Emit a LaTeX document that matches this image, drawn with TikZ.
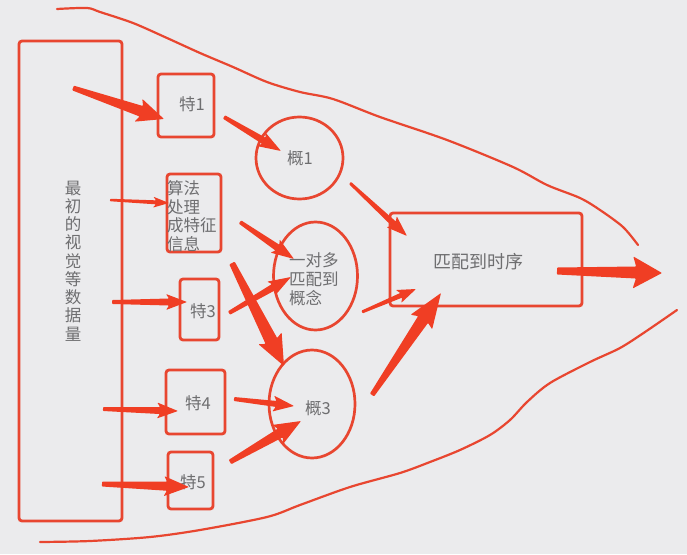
\documentclass[tikz,border=0pt]{standalone}
\usepackage{fontspec}
\setmainfont{Noto Sans CJK SC}
\usetikzlibrary{calc,shapes.geometric}
\definecolor{bg}{RGB}{235,235,237}
\definecolor{lred}{RGB}{232,70,48}
\definecolor{ared}{RGB}{240,62,36}
\definecolor{tgray}{RGB}{110,110,112}
% tapered hand-drawn arrow: from, to, tail width, shaft width, head width, head length
\newcommand\tarrow[6]{%
  \path let \p1=(#1), \p2=(#2), \n1={atan2(\y2-\y1,\x2-\x1)}, \n2={veclen(\x2-\x1,\y2-\y1)} in
    \pgfextra{\xdef\tang{\n1}\xdef\tlen{\n2}};
  \fill[ared, shift={(#1)}, rotate=\tang, rounded corners=0.8pt]
    (0,#3/2) -- (\tlen-#6,#4/2) -- (\tlen-#6-3,#5/2) -- (\tlen,0)
    -- (\tlen-#6-3,-#5/2) -- (\tlen-#6,-#4/2) -- (0,-#3/2) -- cycle;
}
\tikzset{
  box/.style={draw=lred, line width=2.8pt, rounded corners=3pt, rectangle, inner sep=0pt},
  oval/.style={draw=lred, line width=2.7pt, ellipse, inner sep=0pt},
  lbl/.style={text=tgray, font=\fontsize{16.5}{18.5}\selectfont, inner sep=0pt},
  edge/.style={draw=lred, line width=2.2pt, line cap=round},
}
\begin{document}
\begin{tikzpicture}[x=1pt,y=-1pt]
\useasboundingbox (0,0) rectangle (687,554);
\fill[bg] (0,0) rectangle (687,554);

% boundary curves
\draw[edge] plot[smooth, tension=0.5] coordinates {(57,9) (87,8) (100,12) (133,23) (167,38) (200,53) (233,67) (267,82) (300,92) (333,99) (380,117) (447,140) (513,167) (547,185) (580,198) (600,210) (623,227) (638,245)};
\draw[edge] plot[smooth, tension=0.5] coordinates {(40,542) (90,541) (150,537) (200,530) (267,517) (300,505) (350,487) (400,473) (430,462) (460,450) (490,435) (510,420) (527,402) (550,383) (590,362) (620,348) (645,332) (677,310)};

% boxes
\node[box, minimum width=103pt, minimum height=480pt] (big) at (70.5,281) {};
\node[box, minimum width=56pt, minimum height=63pt] (f1) at (186,105.5) {};
\node[box, minimum width=54pt, minimum height=78pt] (alg) at (194,213) {};
\node[box, minimum width=39pt, minimum height=61pt] (f3) at (199.5,309.5) {};
\node[box, minimum width=59pt, minimum height=64pt] (f4) at (195.5,402) {};
\node[box, minimum width=45pt, minimum height=57pt] (f5) at (190.5,480.5) {};
\node[oval, minimum width=87pt, minimum height=82pt] (c1) at (299.5,158) {};
\node[oval, minimum width=84pt, minimum height=108pt] (c2) at (315.5,276) {};
\node[oval, minimum width=86pt, minimum height=108pt] (c3) at (312,404) {};
\node[box, minimum width=192pt, minimum height=93pt] (seq) at (486,259.5) {};

% texts
\node[lbl, align=center, font=\fontsize{16.5}{18.25}\selectfont] (tbig) at (73,261) {最\\初\\的\\视\\觉\\等\\数\\据\\量};
\node[lbl] (tf1) at (192,104) {特1};
\node[lbl, align=left, anchor=west] (talg) at (167,216) {算法\\处理\\成特征\\信息};
\node[lbl] (tf3) at (203,311) {特3};
\node[lbl] (tf4) at (198,403) {特4};
\node[lbl] (tf5) at (193,482) {特5};
\node[lbl] (tc1) at (300,158) {概1};
\node[lbl, align=left, anchor=west, font=\fontsize{16.5}{19}\selectfont] (tc2) at (289,279) {一对多\\匹配到\\概念};
\node[lbl] (tc3) at (318,408) {概3};
\node[lbl, font=\fontsize{18}{20}\selectfont] (tseq) at (478,262) {匹配到时序};

% arrow end points
\coordinate (a1s) at (73,88);   \coordinate (a1e) at (164,119);
\coordinate (a2s) at (224,117); \coordinate (a2e) at (281,151);
\coordinate (a3s) at (110,200); \coordinate (a3e) at (169,203);
\coordinate (a4s) at (240,222); \coordinate (a4e) at (294,259);
\coordinate (a5s) at (232,263); \coordinate (a5e) at (284,366);
\coordinate (a6s) at (112,302); \coordinate (a6e) at (187,302);
\coordinate (a7s) at (229,313); \coordinate (a7e) at (291,277);
\coordinate (a8s) at (103,409); \coordinate (a8e) at (178,411);
\coordinate (a9s) at (234,399); \coordinate (a9e) at (294,406);
\coordinate (a10s) at (102,484); \coordinate (a10e) at (189,487);
\coordinate (a11s) at (230,462); \coordinate (a11e) at (301,421);
\coordinate (a12s) at (350,183); \coordinate (a12e) at (407,236);
\coordinate (a13s) at (362,312); \coordinate (a13e) at (416,289);
\coordinate (a14s) at (372,395); \coordinate (a14e) at (441,293);
\coordinate (a15s) at (557,271); \coordinate (a15e) at (662,273);

\tarrow{a1s}{a1e}{5}{11}{24}{24}
\tarrow{a2s}{a2e}{4}{7}{16}{20}
\tarrow{a3s}{a3e}{2.5}{4}{11}{13}
\tarrow{a4s}{a4e}{4}{7}{16}{20}
\tarrow{a5s}{a5e}{6}{13}{26}{28}
\tarrow{a6s}{a6e}{4}{7}{16}{18}
\tarrow{a7s}{a7e}{4}{7}{16}{20}
\tarrow{a8s}{a8e}{4}{7}{16}{18}
\tarrow{a9s}{a9e}{4}{6}{16}{18}
\tarrow{a10s}{a10e}{5}{9}{20}{22}
\tarrow{a11s}{a11e}{5}{10}{22}{24}
\tarrow{a12s}{a12e}{3}{6}{15}{18}
\tarrow{a13s}{a13e}{3}{5}{14}{16}
\tarrow{a14s}{a14e}{5}{12}{26}{32}
\tarrow{a15s}{a15e}{7}{12}{32}{26}
\end{tikzpicture}
\end{document}
